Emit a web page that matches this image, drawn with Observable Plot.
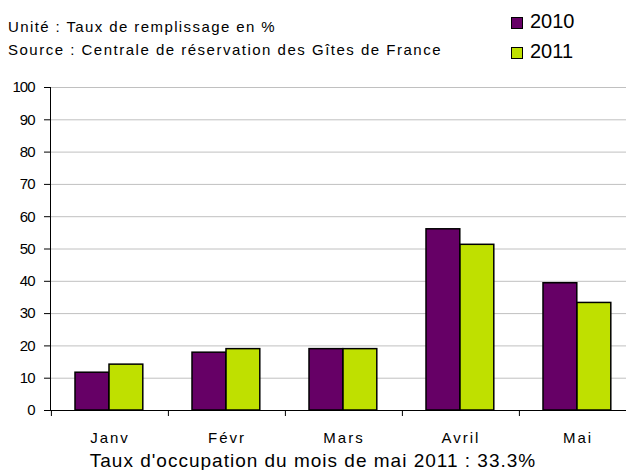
<!DOCTYPE html>
<html><head><meta charset="utf-8">
<script src="https://cdn.jsdelivr.net/npm/d3@7"></script>
<script src="https://cdn.jsdelivr.net/npm/@observablehq/plot@0.6"></script>
<style>
body{margin:0;background:#fff;font-family:"Liberation Sans",Arial,sans-serif;}
#wrap{position:relative;width:626px;height:470px;overflow:hidden;background:#fff;}
#wrap svg{position:absolute;left:0;top:0;}
.t{position:absolute;white-space:nowrap;color:#000;line-height:1;}
.sw{position:absolute;width:10px;height:10px;border:1px solid #000;}
</style></head><body><div id="wrap"></div>
<script>
const months = ["Janv","Févr","Mars","Avril","Mai"];
const values2010 = [11.7,17.9,19.0,56.1,39.4];
const values2011 = [14.2,19.0,19.0,51.3,33.3];
const yTicks = [0,10,20,30,40,50,60,70,80,90,100];
const seriesLabels = ["2010","2011"];
const seriesColors = ["#660066","#bfe000"];
const unitText = "Unité : Taux de remplissage en %";
const sourceText = "Source : Centrale de réservation des Gîtes de France";
const captionText = "Taux d'occupation du mois de mai 2011 : 33.3%";

const W = 626, H = 470, mL = 50, mR = -10, mT = 87, mB = 60;
const band = (W - mL - mR) / months.length;
const data2010 = months.map((m, i) => ({month: m, value: values2010[i]}));
const data2011 = months.map((m, i) => ({month: m, value: values2011[i]}));

const chart = Plot.plot({
  width: W, height: H,
  marginLeft: mL, marginRight: mR, marginTop: mT, marginBottom: mB,
  style: {fontFamily: '"Liberation Sans", Arial, sans-serif', fontSize: "15px", color: "#000", background: "transparent", overflow: "visible"},
  x: {domain: months, padding: 0},
  y: {domain: [0, 100]},
  marks: [
    Plot.ruleY(yTicks.slice(1), {stroke: "#c0c0c0", strokeWidth: 1}),
    Plot.barY(data2010, {x: "month", y: "value", fill: seriesColors[0], stroke: "#000", strokeWidth: 1.5, insetLeft: 24, insetRight: band - 58}),
    Plot.barY(data2011, {x: "month", y: "value", fill: seriesColors[1], stroke: "#000", strokeWidth: 1.5, insetLeft: 58, insetRight: band - 92}),
    Plot.ruleY([0], {stroke: "#000", strokeWidth: 1}),
    Plot.frame({anchor: "left", stroke: "#000"}),
    Plot.axisY({ticks: yTicks, tickSize: 6, tickPadding: 10, fontSize: 15, label: null}),
    Plot.axisX({tickSize: 0, tickPadding: 22, fontSize: 15, label: null}),
    Plot.axisX({tickSize: 6, tickFormat: () => "", dx: -band / 2, label: null})
  ]
});
const wrap = document.getElementById("wrap");
wrap.appendChild(chart);
d3.select(chart).selectAll('g[aria-label="x-axis tick label"] text').style("letter-spacing", "2px");
d3.select(chart).selectAll('g[aria-label="y-axis tick label"] text').style("letter-spacing", "-1px");

function addText(txt, css) {
  const d = document.createElement("div");
  d.className = "t";
  d.textContent = txt;
  Object.assign(d.style, css);
  wrap.appendChild(d);
  return d;
}
addText(unitText, {left: "8px", top: "18.5px", fontSize: "15px", letterSpacing: "1.4px"});
addText(sourceText, {left: "8px", top: "41.5px", fontSize: "15px", letterSpacing: "1.5px"});
seriesLabels.forEach((s, i) => {
  const sw = document.createElement("div");
  sw.className = "sw";
  sw.style.left = "511px";
  sw.style.top = (17 + i * 30) + "px";
  sw.style.background = seriesColors[i];
  wrap.appendChild(sw);
  addText(s, {left: "530px", top: (11 + i * 30) + "px", fontSize: "20px"});
});
addText(captionText, {left: "0px", width: "626px", textAlign: "center", top: "451px", fontSize: "19px", letterSpacing: "1px"});
</script></body></html>
